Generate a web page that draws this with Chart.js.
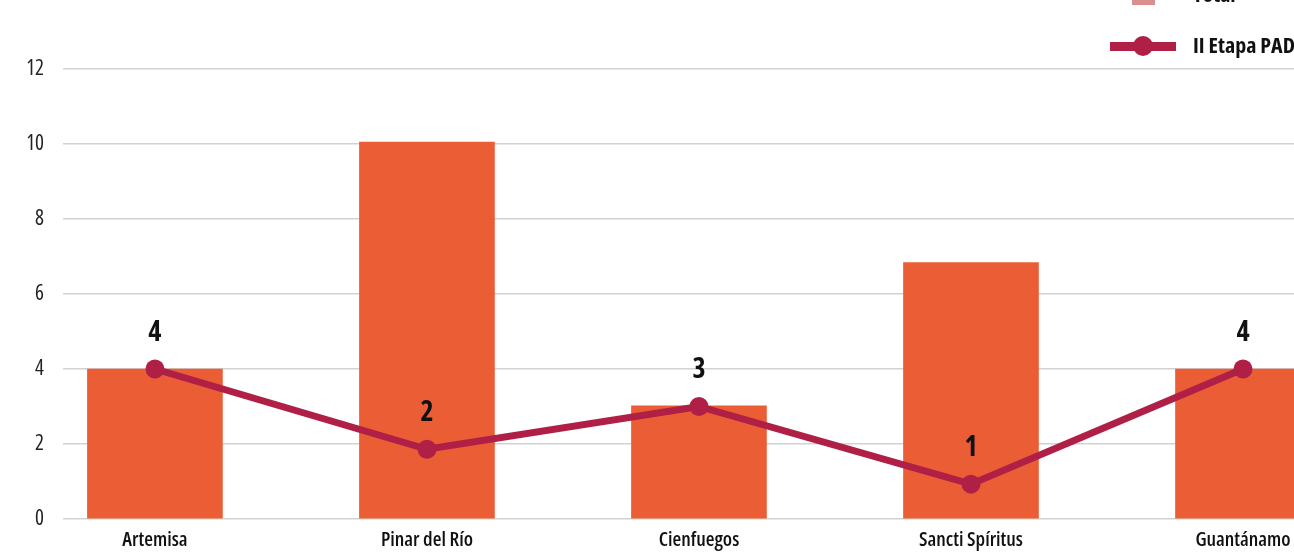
<!DOCTYPE html>
<html>
<head>
<meta charset="utf-8">
<script src="https://cdn.jsdelivr.net/npm/chart.js@4.4.1/dist/chart.umd.min.js"></script>
<style>
  html, body { margin:0; padding:0; background:#fff; overflow:hidden; }
  #wrap { position:relative; width:1294px; height:552px; overflow:hidden; }
  #c { position:absolute; left:0; top:0; }
  .lg { position:absolute; font-family:"Open Sans",sans-serif; font-stretch:condensed; font-weight:700; font-size:22px; color:#111; white-space:nowrap; line-height:1; }
  .sq { position:absolute; background:#D98F8E; }
  .ln { position:absolute; background:#B01F45; }
  .dot { position:absolute; background:#B01F45; border-radius:50%; }
</style>
</head>
<body>
<div id="wrap">
  <canvas id="c" width="1294" height="552"></canvas>
  <div class="sq" style="left:1132px; top:-18px; width:23px; height:23px;"></div>
  <div class="lg" style="left:1193px; top:-18px;">Total</div>
  <div class="ln" style="left:1110px; top:42px; width:66px; height:9px;"></div>
  <div class="dot" style="left:1133px; top:36px; width:20px; height:20px;"></div>
  <div class="lg" style="left:1193px; top:33px;">II Etapa PADI</div>
</div>
<script>
const categories = ["Artemisa", "Pinar del Río", "Cienfuegos", "Sancti Spíritus", "Guantánamo"];
const totalValues = [4, 10.05, 3.02, 6.84, 4];
const padiValues = [4, 1.86, 3, 0.93, 4];
const padiLabels = [4, 2, 3, 1, 4];
const yTicks = [0, 2, 4, 6, 8, 10, 12];

const FONT = '"Open Sans", sans-serif';

const labelPlugin = {
  id: 'pointLabels',
  afterDatasetsDraw(chart) {
    const meta = chart.getDatasetMeta(1);
    const ctx = chart.ctx;
    ctx.save();
    ctx.font = 'condensed bold 28px ' + FONT;
    ctx.fillStyle = '#111';
    ctx.textAlign = 'center';
    ctx.textBaseline = 'middle';
    meta.data.forEach((pt, i) => {
      ctx.fillText(String(padiLabels[i]), pt.x, pt.y - 36);
    });
    ctx.restore();
  }
};

new Chart(document.getElementById('c'), {
  data: {
    datasets: [
      {
        type: 'bar',
        label: 'Total',
        data: totalValues.map((v, i) => ({ x: i, y: v })),
        backgroundColor: '#EA5D35',
        barThickness: 135,
        order: 2
      },
      {
        type: 'line',
        label: 'II Etapa PADI',
        data: padiValues.map((v, i) => ({ x: i, y: v })),
        borderColor: '#B01F45',
        backgroundColor: '#B01F45',
        borderWidth: 7,
        pointRadius: 9.5,
        pointBorderWidth: 0,
        pointBackgroundColor: '#B01F45',
        tension: 0,
        clip: false,
        order: 1
      }
    ]
  },
  options: {
    responsive: false,
    animation: false,
    devicePixelRatio: 1,
    layout: { autoPadding: false, padding: { top: 69, left: 0, right: 0, bottom: 0 } },
    plugins: { legend: { display: false }, tooltip: { enabled: false } },
    scales: {
      x: {
        type: 'linear',
        offset: false,
        min: -0.338,
        max: 4.1875,
        afterBuildTicks: (axis) => { axis.ticks = categories.map((_, i) => ({ value: i })); },
        afterFit: (axis) => { axis.height = 33; axis.paddingLeft = 0; axis.paddingRight = 0; },
        grid: { display: false, drawTicks: false },
        border: { display: false },
        ticks: {
          autoSkip: false,
          maxRotation: 0,
          padding: 9,
          color: '#111',
          font: { family: FONT, size: 20, weight: 'condensed 600' },
          callback: (v) => categories[v] ?? ''
        }
      },
      y: {
        min: 0,
        max: 12,
        afterBuildTicks: (axis) => { axis.ticks = yTicks.map(v => ({ value: v })); },
        afterFit: (axis) => { axis.width = 63; axis.paddingTop = 0; axis.paddingBottom = 0; },
        grid: { color: '#d2d2d2', lineWidth: 1.5, drawTicks: false },
        border: { display: false },
        ticks: {
          padding: 19,
          color: '#222',
          font: { family: FONT, size: 21, weight: 'condensed 400' }
        }
      }
    }
  },
  plugins: [labelPlugin]
});
</script>
</body>
</html>
